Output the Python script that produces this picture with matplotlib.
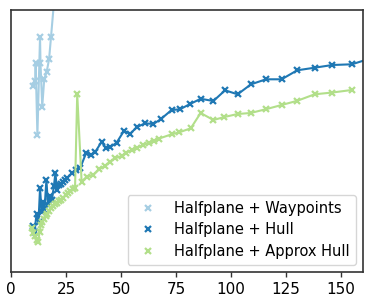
import matplotlib
matplotlib.use("Agg")
import matplotlib.pyplot as plt
from matplotlib.lines import Line2D

# Halfplane + Waypoints
wp_x = [10, 11, 11.2, 12, 13.2, 13.4, 14.2, 15.1, 16.2, 17.3, 18.2, 20]
wp_y = [186, 191.3, 209.3, 137, 235.3, 209.3, 165.3, 192.7, 200, 212.7, 235.3, 281.7]

# Halfplane + Hull
hull_x = [9.8, 10.7, 11.6, 12.5, 13.2, 13.9, 14.5, 15.2, 16.1, 16.8, 17.7, 18.6, 19.5,
          20.2, 20.9, 21.8, 22.7, 23.6, 24.5, 25.5, 27.6, 29.5, 31.4, 34.1, 36.2, 38.2,
          41.2, 43.2, 45, 48, 51.4, 54.1, 57.1, 60.9, 64.7, 68, 73, 76.8, 81.4, 86.2,
          92, 97.3, 103, 109.1, 115.9, 123, 130.1, 138, 146.1, 154.9, 164.1]
hull_y = [46, 40, 58, 50, 84, 60, 70, 62, 92, 67, 76, 72, 86,
          99, 82, 87, 88, 90, 92, 94, 98.7, 102, 103.7, 118.7, 117, 119.7,
          130.3, 123.7, 124.7, 129.3, 141.3, 138, 144.7, 148.7, 148, 152.7, 162, 162.7, 168, 173.2,
          171, 181.7, 177.7, 187.7, 192.7, 192.7, 201.7, 204.3, 207, 207.7, 214]

# Halfplane + Approx Hull
approx_x = [9.4, 10.1, 10.9, 11.6, 12.3, 13, 13.6, 14.3, 15, 15.7, 16.4, 17.3, 18.2, 19.1,
            20, 20.9, 21.8, 22.7, 23.6, 24.8, 25.9, 27, 28.2, 29.1, 30.1, 32.1, 34.4, 37.4,
            40.1, 42.7, 45, 47.3, 50.3, 52.3, 54.9, 57.4, 60.1, 62.9, 65, 67.4, 73, 76.5,
            81.7, 86.2, 92, 97, 103, 108.9, 115.9, 123, 130.1, 138, 146.1, 154.9]
approx_y = [44, 39, 36, 32, 30, 40, 47, 50, 53, 56, 58, 61, 64, 66,
            68, 69, 71, 72, 74, 77, 79, 81, 83, 83.7, 177.7, 90.3, 95.3, 97,
            102.7, 106, 110.3, 113.7, 116, 119.3, 122, 124.3, 127, 129.5, 130.8, 133.5, 137.7, 139.7,
            143.7, 159, 152, 155, 158, 159, 162.8, 167, 171.2, 177.7, 179.5, 182]

labels = ["Halfplane + Waypoints", "Halfplane + Hull", "Halfplane + Approx Hull"]
colors = ["#a6cee3", "#1f78b4", "#b2df8a"]

fig = plt.figure(figsize=(3.74, 3.01), dpi=100)
ax = fig.add_axes([11 / 374, 29 / 301, 352 / 374, 262 / 301])

kw = dict(marker="x", markersize=5, markeredgewidth=1.6, linewidth=1.5)
ax.plot(wp_x, wp_y, color=colors[0], **kw)
ax.plot(hull_x, hull_y, color=colors[1], **kw)
ax.plot(approx_x, approx_y, color=colors[2], **kw)

ax.set_xlim(0, 160)
ax.set_ylim(0, 262)
ax.set_xticks([0, 25, 50, 75, 100, 125, 150])
ax.set_yticks([])
ax.tick_params(axis="x", labelsize=11, length=3.5, width=1, color="#333333")
for s in ax.spines.values():
    s.set_color("#333333")
    s.set_linewidth(1.2)

handles = [Line2D([], [], linestyle="none", marker="x", color=c, markersize=5,
                  markeredgewidth=1.6) for c in colors]
ax.legend(handles, labels, loc="lower right", fontsize=10.5, framealpha=0.8,
          labelspacing=0.45)

fig.savefig("out.png", dpi=100)
